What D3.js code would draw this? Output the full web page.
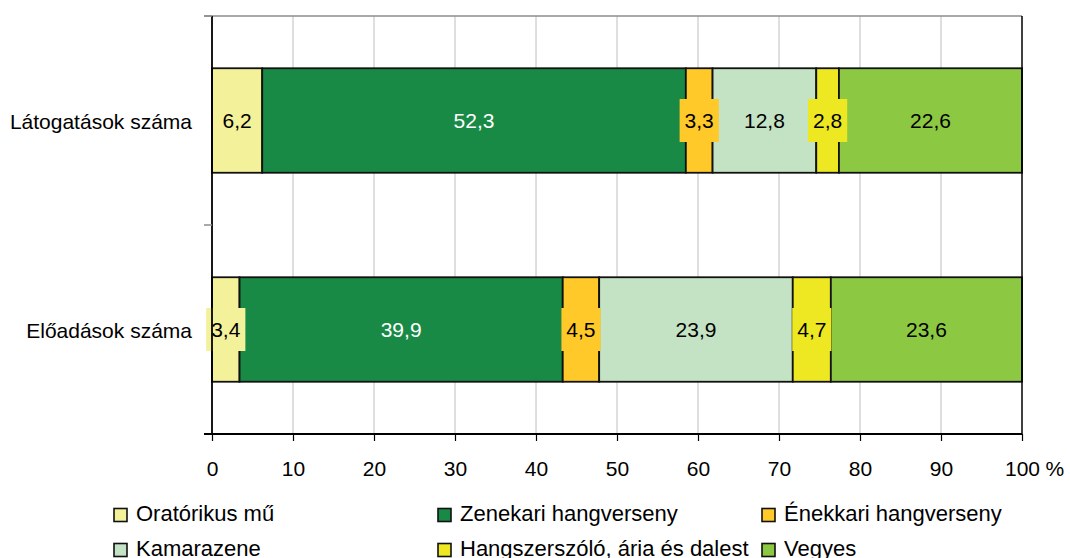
<!DOCTYPE html>
<html>
<head>
<meta charset="utf-8">
<script src="https://cdn.jsdelivr.net/npm/d3@7"></script>
<style>
  html, body { margin: 0; padding: 0; background: #fff; }
  svg { display: block; font-family: "Liberation Sans", Arial, sans-serif; }
</style>
</head>
<body>
<svg id="chart" width="1070" height="558"></svg>
<script>
// ---- DATA ----
const categories = ["Látogatások száma", "Előadások száma"];
const seriesNames = ["Oratórikus mű", "Zenekari hangverseny", "Énekkari hangverseny",
                     "Kamarazene", "Hangszerszóló, ária és dalest", "Vegyes"];
const latogatasok = [6.2, 52.3, 3.3, 12.8, 2.8, 22.6];
const eloadasok   = [3.4, 39.9, 4.5, 23.9, 4.7, 23.6];
const xTicks = [0, 10, 20, 30, 40, 50, 60, 70, 80, 90, 100];
const colors = ["#F4F19B", "#188A45", "#FFC92A", "#C4E3C4", "#EEE823", "#8DC843"];
const labelColors = ["#000", "#fff", "#000", "#000", "#000", "#000"];

const values = [latogatasok, eloadasok];

(function () {
const FONT = '"Liberation Sans", Arial, sans-serif';
const svg = d3.select("#chart");
const x = d3.scaleLinear().domain([0, 100]).range([212, 1022]);
const y = d3.scaleBand().domain(categories).range([16, 434]).paddingInner(0.5).paddingOuter(0.25);
const yTop = 16, yBottom = 434;

// gridlines
svg.append("g").selectAll("line").data(xTicks.filter(d => d > 0 && d < 100)).join("line")
  .attr("x1", d => x(d)).attr("x2", d => x(d)).attr("y1", yTop).attr("y2", yBottom)
  .attr("stroke", "#BEBEBE").attr("stroke-width", 1);

// top border (gray)
svg.append("line").attr("x1", 204).attr("x2", x(100)).attr("y1", yTop).attr("y2", yTop)
  .attr("stroke", "#8C8C8C").attr("stroke-width", 1.5);

// bars
const stacked = categories.map((c, i) => {
  let acc = 0;
  return values[i].map((v, j) => { const s = acc; acc += v; return { cat: c, j, v, x0: s, x1: acc }; });
});
const barG = svg.append("g");
stacked.forEach(row => {
  barG.selectAll(null).data(row).join("rect")
    .attr("x", d => x(d.x0)).attr("width", d => x(d.x1) - x(d.x0))
    .attr("y", d => y(d.cat)).attr("height", y.bandwidth())
    .attr("fill", d => colors[d.j]).attr("stroke", "#111").attr("stroke-width", 1.8);
});

// data labels with backgrounds
const fs = 21;
const labG = svg.append("g");
stacked.forEach(row => {
  row.forEach(d => {
    const cx = (x(d.x0) + x(d.x1)) / 2;
    const cy = y(d.cat) + y.bandwidth() / 2;
    const txt = d.v.toFixed(1).replace(".", ",");
    const t = labG.append("text").attr("x", cx).attr("y", cy).attr("dy", "0.37em")
      .attr("text-anchor", "middle").attr("font-size", fs).attr("fill", labelColors[d.j]).text(txt);
    const w = t.node().getComputedTextLength();
    const bw = w + 10, bh = 43;
    if (x(d.x1) - x(d.x0) < bw + 4) {
      labG.insert("rect", () => t.node())
        .attr("x", cx - bw / 2).attr("y", cy - bh / 2).attr("width", bw).attr("height", bh)
        .attr("fill", colors[d.j]);
    }
  });
});

// left axis
svg.append("line").attr("x1", 212).attr("x2", 212).attr("y1", yTop).attr("y2", yBottom)
  .attr("stroke", "#000").attr("stroke-width", 1.8);
const bounds = [yTop, (y(categories[0]) + y.bandwidth() + y(categories[1])) / 2];
svg.append("g").selectAll("line").data(bounds).join("line")
  .attr("x1", 204).attr("x2", 212).attr("y1", d => d).attr("y2", d => d)
  .attr("stroke", "#8C8C8C").attr("stroke-width", 1.5);
// right edge
svg.append("line").attr("x1", x(100)).attr("x2", x(100)).attr("y1", yTop).attr("y2", yBottom)
  .attr("stroke", "#000").attr("stroke-width", 1.5);

// category labels
svg.append("g").selectAll("text").data(categories).join("text")
  .attr("x", 192).attr("y", d => y(d) + y.bandwidth() / 2).attr("dy", "0.4em")
  .attr("text-anchor", "end").attr("font-size", fs).attr("fill", "#000").text(d => d);

// bottom axis
const xAxis = d3.axisBottom(x).tickValues(xTicks).tickSize(7).tickPadding(20)
  .tickFormat(d => d);
const ax = svg.append("g").attr("transform", `translate(0,${yBottom})`).call(xAxis);
ax.attr("font-family", FONT).attr("font-size", fs);
ax.select(".domain").attr("stroke", "#000").attr("stroke-width", 1.8).attr("d", `M204,0H${x(100)}`);
ax.selectAll(".tick line").attr("stroke", "#000").attr("stroke-width", 1.2);
ax.selectAll(".tick text").attr("font-size", fs).attr("font-family", FONT).attr("fill", "#000");
// percent sign after 100
const tmp = svg.append("text").attr("font-size", fs).attr("font-family", FONT).text("100");
const lw = tmp.node().getComputedTextLength();
tmp.remove();
ax.append("text").attr("x", x(100) + lw / 2 + 6).attr("y", 7 + 20).attr("dy", "0.71em")
  .attr("text-anchor", "start")
  .attr("font-size", fs).attr("font-family", FONT).attr("fill", "#000").text("%");

// legend
const legCols = [114, 438, 762];
const legRows = [521, 556];
const lg = svg.append("g");
seriesNames.forEach((n, i) => {
  const cx = legCols[i % 3], by = legRows[Math.floor(i / 3)];
  lg.append("rect").attr("x", cx).attr("y", by - 12.5).attr("width", 13).attr("height", 13)
    .attr("fill", colors[i]).attr("stroke", "#111").attr("stroke-width", 1.6);
  lg.append("text").attr("x", cx + 22).attr("y", by).attr("font-size", 22).attr("fill", "#000").text(n);
});
})();
</script>
</body>
</html>
